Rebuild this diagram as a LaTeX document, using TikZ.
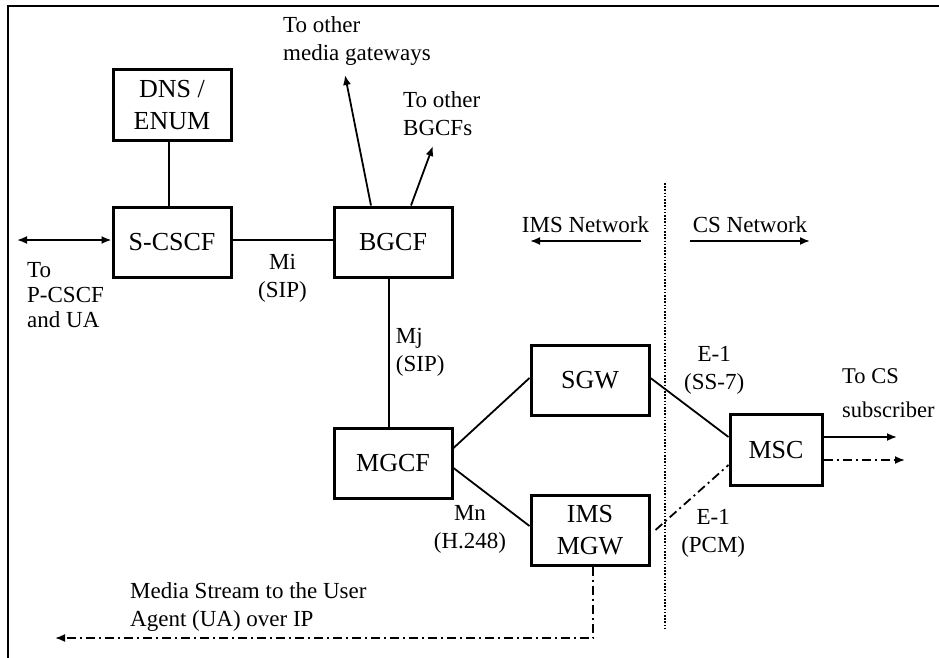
\documentclass[tikz,border=0pt]{standalone}
\usepackage{fontspec}
\setmainfont{Liberation Serif}
\usetikzlibrary{positioning,arrows.meta}

\begin{document}
\begin{tikzpicture}[x=1pt, y=-1pt,
  every node/.style={font=\fontsize{23}{28}\selectfont},
  box/.style={draw, line width=3pt, minimum width=118pt, minimum height=70pt, inner sep=0pt, align=center, font=\fontsize{26}{32}\selectfont},
  link/.style={line width=1.8pt},
  tip/.style={-{Latex[length=10pt,width=8pt]}, line width=1.8pt},
  media/.style={line width=1.8pt, dash pattern=on 9pt off 4pt on 2pt off 4pt},
  lab/.style={align=center, inner sep=0pt}]

\useasboundingbox (0,0) rectangle (939,658);
\draw[line width=2pt] (8,658) -- (8,6) -- (939,6);

% network elements
\node[box] (scscf) at (172,242) {S-CSCF};
\node[box, above=64pt of scscf] (dns) {DNS /\\ENUM};
\node[box, right=100pt of scscf] (bgcf) {BGCF};
\node[box, below=148pt of bgcf] (mgcf) {MGCF};
\node[box] (sgw) at (590,380) {SGW};
\node[box] (mgw) at (590,530) {IMS\\MGW};
\node[box, minimum width=92pt, minimum height=71pt] (msc) at (776,450) {MSC};

% free ends
\coordinate (pcscf) at (17,240);
\coordinate (mgwout) at (345,75);
\coordinate (bgcfout) at (433,146);
\coordinate (cs1) at (897,437);
\coordinate (cs2) at (905,460);
\coordinate (divtop) at (665,183);
\coordinate (divbot) at (665,628);
\coordinate (imsr) at (641,241);
\coordinate (imsl) at (530,241);
\coordinate (csl) at (690,241);
\coordinate (csr) at (810,241);
\coordinate (mcorner) at (593,638);
\coordinate (mend) at (55,638);

\draw[link] ([xshift=-3pt]dns.south) -- ([xshift=-3pt]scscf.north);
\draw[link, {Latex[length=10pt,width=8pt]}-{Latex[length=10pt,width=8pt]}] (pcscf) -- ([yshift=2pt]scscf.west);
\node[lab, align=left, anchor=north west, font=\fontsize{23}{25}\selectfont] (pcscflab) at (27,262) {To\\P-CSCF\\and UA};

\draw[link] ([yshift=2pt]scscf.east) -- node[lab, below=13pt] {Mi\\(SIP)} ([yshift=2pt]bgcf.west);
\draw[tip] ([xshift=-22pt]bgcf.north) -- (mgwout);
\node[lab, align=left, anchor=north west] (mgwlab) at (283,16) {To other\\media gateways};
\draw[tip] ([xshift=18pt]bgcf.north) -- (bgcfout);
\node[lab, align=left, anchor=north west] (bgcflab) at (403,91) {To other\\BGCFs};

\draw[link] ([xshift=-4pt]bgcf.south) -- node[lab, right=6pt, align=left] {Mj\\(SIP)} ([xshift=-4pt]mgcf.north);
\draw[link] ([yshift=15pt]mgcf.east) -- ([yshift=2pt]sgw.west);
\draw[link] ([yshift=-5pt]mgcf.east) -- ([yshift=4pt]mgw.west);
\node[lab] (mn) at (470,529) {Mn\\(H.248)};

\draw[link] ([yshift=2pt]sgw.east) -- node[lab, pos=0.6, above right=18pt and -14pt] {E-1\\(SS-7)} ([yshift=13pt]msc.west);
\draw[media] ([xshift=5pt]mgw.east) -- node[lab, pos=0.45, below right=8pt and -8pt] {E-1\\(PCM)} ([yshift=-15pt]msc.west);

\draw[tip] ([yshift=13pt]msc.east) -- (cs1);
\draw[media, -{Latex[length=10pt,width=8pt]}] ([yshift=-10pt]msc.east) -- (cs2);
\node[lab, align=left, anchor=north west, font=\fontsize{22.5}{34}\selectfont] (cslab) at (842,368) {To CS\\subscriber};

% network boundary
\draw[line width=2pt, dash pattern=on 1.6pt off 1.6pt] (divtop) -- (divbot);
\draw[tip] (imsr) -- node[lab, above=7pt] {IMS Network} (imsl);
\draw[tip] (csl) -- node[lab, above=7pt] {CS Network} (csr);

% media path
\draw[media, -{Latex[length=10pt,width=8pt]}] ([xshift=3pt]mgw.south) -- (mcorner) -- (mend);
\node[lab, align=left, anchor=south west] (medialab) at (130,632) {Media Stream to the User\\Agent (UA) over IP};
\end{tikzpicture}
\end{document}
